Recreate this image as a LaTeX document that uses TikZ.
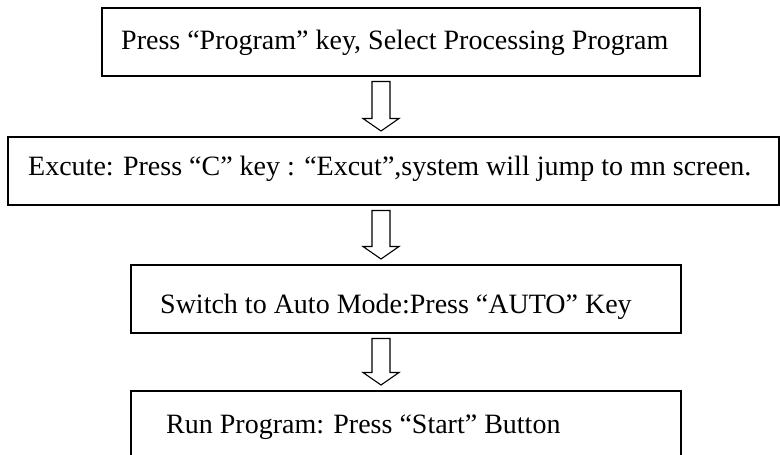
\documentclass[tikz,border=0pt]{standalone}
\usepackage{fontspec}
\setmainfont{Liberation Serif}
\usetikzlibrary{calc}
\begin{document}
\begin{tikzpicture}[x=1pt,y=-1pt,
  stepbox/.style={draw, line width=1.5pt, anchor=north west,
    inner sep=0pt, minimum height=68},
  steptext/.style={anchor=base west, inner sep=0pt,
    font=\fontsize{28}{34}\selectfont},
  blockarrow/.style={draw, line width=1.1pt, line join=miter, fill=white}]
\clip (0,0) rectangle (780,455);
\fill[white] (0,0) rectangle (780,455);

% process steps: frame first, then its caption set from the frame's corner
\node[stepbox, minimum width=598] (s1) at (101,7) {};
\node[steptext] (t1) at ($(s1.north west)+(20,42)$)
  {Press “Program” key, Select Processing Program};

\node[stepbox, minimum width=771] (s2) at (7,136) {};
\node[steptext] (t2) at ($(s2.north west)+(21,39)$)
  {Excute: Press “C” key : “Excut”,system will jump to mn screen.};

\node[stepbox, minimum width=550] (s3) at (130,264) {};
\node[steptext] (t3) at ($(s3.north west)+(30,49)$)
  {Switch to Auto Mode:Press “AUTO” Key};

\node[stepbox, minimum width=550] (s4) at (130,390) {};
\node[steptext] (t4) at ($(s4.north west)+(36,43)$)
  {Run Program: Press “Start” Button};

% hollow block arrows between consecutive steps
\newcommand\flowarrow[2]{%
  \draw[blockarrow] let \p1=(#1.south), \p2=(#2.north) in
    (372pt,\y1-5pt) -- (390pt,\y1-5pt) -- (390pt,\y2+17.5pt)
    -- (399pt,\y2+17.5pt) -- (381pt,\y2+5pt) -- (363pt,\y2+17.5pt)
    -- (372pt,\y2+17.5pt) -- cycle;}
\flowarrow{s1}{s2}
\flowarrow{s2}{s3}
\flowarrow{s3}{s4}
\end{tikzpicture}
\end{document}
